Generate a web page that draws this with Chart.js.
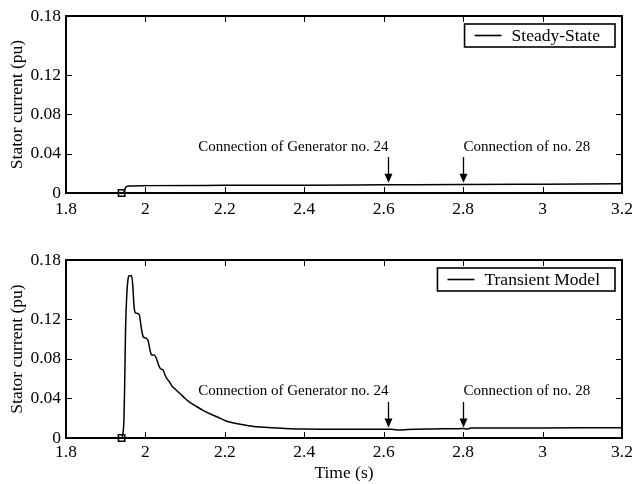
<!DOCTYPE html>
<html>
<head>
<meta charset="utf-8">
<script src="https://cdn.jsdelivr.net/npm/chart.js@4.4.0/dist/chart.umd.min.js"></script>
<style>
  body { margin: 0; background: #fff; }
  canvas { position: absolute; left: 0; }
  #topChart { top: 0; }
  #bottomChart { top: 240px; }
</style>
</head>
<body>
<canvas id="topChart" width="635" height="215"></canvas>
<canvas id="bottomChart" width="635" height="244"></canvas>
<script>
const timeTicks = [1.8, 2, 2.2, 2.4, 2.6, 2.8, 3, 3.2];
const currentTicks = [0, 0.04, 0.08, 0.12, 0.18];

const steadyTime = [1.8, 1.945, 1.948, 1.952, 1.96, 2.0, 2.2, 2.4, 2.6, 2.8, 3.0, 3.2];
const steadyCurrent = [0, 0, 0.004, 0.0065, 0.0072, 0.0075, 0.0078, 0.008, 0.0083, 0.0086, 0.009, 0.0094];

const transientTime = [1.8, 1.94, 1.943, 1.946, 1.948, 1.95, 1.953, 1.956, 1.959, 1.965, 1.968, 1.971, 1.974,
  1.98, 1.985, 1.99, 1.995, 2.002, 2.007, 2.012, 2.016, 2.022, 2.027, 2.033, 2.038, 2.044, 2.049, 2.054,
  2.06, 2.066, 2.076, 2.087, 2.1, 2.112, 2.128, 2.145, 2.165, 2.183, 2.205, 2.225, 2.26, 2.3, 2.35, 2.4,
  2.5, 2.62, 2.64, 2.66, 2.72, 2.79, 2.8, 2.81, 2.82, 2.9, 3.0, 3.2];
const transientCurrent = [0, 0, 0.004, 0.02, 0.06, 0.11, 0.145, 0.16, 0.164, 0.164, 0.155, 0.135, 0.127,
  0.126, 0.124, 0.11, 0.102, 0.101, 0.098, 0.088, 0.084, 0.084, 0.081, 0.074, 0.07, 0.069, 0.064, 0.06,
  0.057, 0.053, 0.049, 0.045, 0.04, 0.036, 0.032, 0.028, 0.024, 0.021, 0.017, 0.015, 0.0125, 0.0108, 0.0097, 0.009,
  0.0088, 0.0088, 0.008, 0.0087, 0.0092, 0.0094, 0.0096, 0.0092, 0.01, 0.0101, 0.0102, 0.0104];

const markerTime = [1.94];
const markerCurrent = [0];

const connectionTimes = [2.61, 2.8];
const connectionLabels = ["Connection of Generator no. 24", "Connection of no. 28"];

const serif = '"Liberation Serif", "Times New Roman", serif';

function toPoints(xs, ys) {
  return xs.map((x, i) => ({ x: x, y: ys[i] }));
}

// box round the plot, with ticks pointing inwards
const framePlugin = {
  id: "frame",
  afterDatasetsDraw(chart) {
    const { ctx, chartArea: a, scales: { x, y } } = chart;
    ctx.save();
    ctx.strokeStyle = "#000";
    ctx.lineWidth = 1;
    timeTicks.forEach(t => {
      const px = Math.round(x.getPixelForValue(t)) + 0.5;
      ctx.beginPath();
      ctx.moveTo(px, a.bottom); ctx.lineTo(px, a.bottom - 6);
      ctx.moveTo(px, a.top); ctx.lineTo(px, a.top + 6);
      ctx.stroke();
    });
    currentTicks.forEach(v => {
      const py = Math.round(y.getPixelForValue(v)) + 0.5;
      ctx.beginPath();
      ctx.moveTo(a.left, py); ctx.lineTo(a.left + 6, py);
      ctx.moveTo(a.right, py); ctx.lineTo(a.right - 6, py);
      ctx.stroke();
    });
    ctx.lineWidth = 2;
    ctx.strokeRect(a.left, a.top, a.right - a.left, a.bottom - a.top);
    ctx.restore();
  }
};

const connectionPlugin = {
  id: "connections",
  afterDraw(chart) {
    const { ctx, scales: { x, y } } = chart;
    ctx.save();
    ctx.fillStyle = "#000";
    ctx.strokeStyle = "#000";
    ctx.lineWidth = 1.3;
    ctx.font = "15px " + serif;
    ctx.textBaseline = "middle";
    connectionTimes.forEach((t, i) => {
      const px = Math.round(x.getPixelForValue(t)) + 0.5;
      const y0 = y.getPixelForValue(0.0365);
      const y1 = y.getPixelForValue(0.0105);
      ctx.beginPath();
      ctx.moveTo(px, y0); ctx.lineTo(px, y1 - 6);
      ctx.stroke();
      ctx.beginPath();
      ctx.moveTo(px - 4, y1 - 9); ctx.lineTo(px + 4, y1 - 9); ctx.lineTo(px, y1);
      ctx.closePath();
      ctx.fill();
      ctx.textAlign = i === 0 ? "right" : "left";
      ctx.fillText(connectionLabels[i], px, y.getPixelForValue(0.047));
    });
    ctx.restore();
  }
};

const boxLegendPlugin = {
  id: "boxLegend",
  afterDraw(chart) {
    const { ctx, chartArea: a } = chart;
    const label = chart.data.datasets[0].label;
    ctx.save();
    ctx.font = "17.5px " + serif;
    const tw = ctx.measureText(label).width;
    const right = a.right - 7;
    const left = right - (10 + 27 + 10 + tw + 15);
    const top = a.top + 8;
    const h = 23;
    ctx.fillStyle = "#fff";
    ctx.fillRect(left, top, right - left, h);
    ctx.strokeStyle = "#000";
    ctx.lineWidth = 1.6;
    ctx.strokeRect(left, top, right - left, h);
    ctx.beginPath();
    ctx.moveTo(left + 10, top + h / 2);
    ctx.lineTo(left + 37, top + h / 2);
    ctx.stroke();
    ctx.fillStyle = "#000";
    ctx.textBaseline = "middle";
    ctx.fillText(label, left + 47, top + h / 2 + 1);
    ctx.restore();
  }
};

function makeChart(id, label, times, values, xTitle, padTop, xHeight, tickPad) {
  const ctx = document.getElementById(id).getContext("2d");
  return new Chart(ctx, {
    type: "line",
    data: {
      datasets: [
        {
          label: label,
          data: toPoints(times, values),
          borderColor: "#000",
          borderWidth: 1.5,
          pointRadius: 0,
          cubicInterpolationMode: "monotone",
          fill: false
        },
        {
          label: "start",
          data: toPoints(markerTime, markerCurrent),
          showLine: false,
          pointStyle: "rect",
          pointRadius: 4.5,
          pointBorderWidth: 1.5,
          pointBorderColor: "#000",
          pointBackgroundColor: "#fff",
          clip: false
        }
      ]
    },
    options: {
      responsive: false,
      animation: false,
      layout: { padding: { top: padTop, right: 13, left: 0, bottom: 0 } },
      plugins: { legend: { display: false }, tooltip: { enabled: false } },
      scales: {
        x: {
          type: "linear",
          min: 1.8,
          max: 3.2,
          afterBuildTicks: s => { s.ticks = timeTicks.map(v => ({ value: v })); },
          afterFit: s => {
            s.height = xHeight;
            // the tick labels overhang is covered by the layout padding
            s.paddingLeft = 0;
            s.paddingRight = 0;
          },
          grid: { display: false, drawTicks: false },
          border: { display: false },
          ticks: {
            color: "#000",
            font: { family: serif, size: 17.5 },
            padding: tickPad,
            maxRotation: 0,
            autoSkip: false,
            callback: v => String(v)
          },
          title: {
            display: !!xTitle,
            text: xTitle,
            color: "#000",
            font: { family: serif, size: 17.5 },
            padding: { top: 1, bottom: 0 }
          }
        },
        y: {
          min: 0,
          max: 0.18,
          afterBuildTicks: s => { s.ticks = currentTicks.map(v => ({ value: v })); },
          afterFit: s => { s.width = 66; },
          grid: { display: false, drawTicks: false },
          border: { display: false },
          ticks: {
            color: "#000",
            font: { family: serif, size: 17.5 },
            padding: 5,
            callback: v => String(v)
          },
          title: {
            display: true,
            text: "Stator current (pu)",
            color: "#000",
            font: { family: serif, size: 17.5 },
            padding: { top: 7, bottom: 0 }
          }
        }
      }
    },
    plugins: [framePlugin, connectionPlugin, boxLegendPlugin]
  });
}

makeChart("topChart", "Steady-State", steadyTime, steadyCurrent, "", 16, 22, 6);
makeChart("bottomChart", "Transient Model", transientTime, transientCurrent, "Time (s)", 20, 46, 4);
</script>
</body>
</html>
